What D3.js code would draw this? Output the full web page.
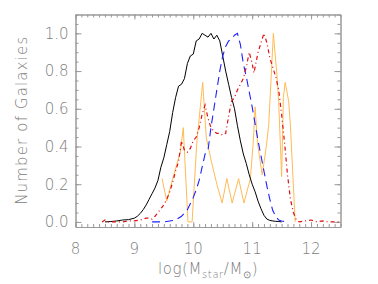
<!DOCTYPE html>
<html><head><meta charset="utf-8">
<script src="https://cdn.jsdelivr.net/npm/d3@7"></script>
<style>
body{margin:0;background:#fff;}
svg{display:block;}
text{font-family:"DejaVu Sans",sans-serif;font-weight:200;fill:#808080;}
</style></head><body>
<svg id="c" width="378" height="284"></svg>
<script>
const xTicks=[8,9,10,11,12];
const yTicks=[0,0.2,0.4,0.6,0.8,1.0];

const blackX=[8.5,8.6,8.7,8.8,8.9,9.0,9.05,9.1,9.15,9.2,9.25,9.3,9.35,9.4,9.45,9.5,9.55,9.6,9.65,9.7,9.75,9.8,9.85,9.9,9.95,10.0,10.05,10.1,10.15,10.2,10.25,10.3,10.35,10.4,10.45,10.5,10.55,10.6,10.65,10.7,10.75,10.8,10.85,10.9,10.95,11.0,11.05,11.1,11.15,11.2,11.25,11.3,11.35,11.4,11.45,11.5];
const blackY=[0,0.002,0.005,0.01,0.012,0.02,0.03,0.045,0.065,0.09,0.12,0.15,0.18,0.22,0.29,0.34,0.41,0.48,0.58,0.66,0.72,0.73,0.76,0.84,0.88,0.89,0.96,0.97,1.0,0.99,0.98,1.0,0.97,0.99,0.96,0.88,0.8,0.73,0.66,0.6,0.51,0.43,0.36,0.31,0.25,0.2,0.16,0.11,0.07,0.035,0.015,0.008,0.005,0.003,0.002,0];

const blueX=[9.3,9.5,9.6,9.7,9.8,9.9,10.0,10.05,10.1,10.15,10.2,10.25,10.3,10.35,10.4,10.45,10.5,10.55,10.6,10.65,10.7,10.75,10.8,10.85,10.9,10.95,11.0,11.05,11.1,11.15,11.2,11.25,11.3,11.35,11.4,11.45,11.5,11.6];
const blueY=[0,0,0.005,0.01,0.03,0.065,0.13,0.17,0.22,0.29,0.36,0.38,0.5,0.6,0.7,0.8,0.88,0.93,0.96,0.97,0.99,1.0,0.94,0.84,0.77,0.69,0.61,0.52,0.43,0.35,0.27,0.19,0.12,0.06,0.03,0.01,0.005,0];

const redX=[8.45,8.5,8.55,8.6,8.7,8.8,8.9,9.0,9.1,9.2,9.25,9.3,9.35,9.4,9.45,9.5,9.55,9.6,9.65,9.7,9.75,9.8,9.85,9.9,9.95,10.0,10.05,10.1,10.15,10.2,10.25,10.3,10.35,10.4,10.45,10.5,10.55,10.6,10.65,10.7,10.75,10.8,10.85,10.9,10.95,11.0,11.03,11.1,11.15,11.2,11.25,11.3,11.35,11.4,11.45,11.5,11.55,11.6,11.65,11.7,11.75,11.8,11.9,12.0,12.1,12.2,12.3,12.5];
const redY=[0,0.01,0,0,0,0,0.005,0.005,0.01,0.02,0.02,0.015,0.03,0.05,0.07,0.09,0.12,0.16,0.21,0.27,0.32,0.43,0.38,0.37,0.39,0.43,0.45,0.5,0.57,0.62,0.55,0.5,0.48,0.47,0.47,0.46,0.47,0.56,0.64,0.66,0.7,0.73,0.76,0.82,0.9,0.84,0.79,0.9,0.95,1.0,0.95,0.87,0.82,0.77,0.7,0.57,0.42,0.25,0.12,0.05,0.01,0,0.005,0.01,0,0.005,0,0];

const orangeX=[9.47,9.55,9.66,9.78,9.83,9.91,9.98,10.06,10.16,10.22,10.3,10.4,10.49,10.57,10.66,10.77,10.86,10.97,11.02,11.05,11.09,11.17,11.24,11.28,11.31,11.36,11.42,11.45,11.5,11.53,11.56,11.62,11.65,11.73];
const orangeY=[0.23,0.11,0.24,0.37,0.5,0,0,0.42,0.74,0.45,0.33,0.2,0.1,0.23,0.1,0.23,0.1,0.23,0.43,0.61,0.42,0.25,0.4,0.51,0.69,1.0,0.78,0.64,0.24,0.66,0.74,0.64,0.51,0];

const svg=d3.select("#c");
const L=75.5,R=340.5,T=14.5,B=227;
const x=d3.scaleLinear().domain([8,12.5]).range([L,R]);
const y=d3.scaleLinear().domain([-0.027,1.1]).range([B,T]);

svg.append("defs").append("clipPath").attr("id","clip").append("rect")
  .attr("x",L).attr("y",T).attr("width",R-L).attr("height",B-T);

const axCol="#9a9a9a";
function styleAx(g){g.selectAll("path,line").attr("stroke",axCol).attr("stroke-width",1);g.selectAll("text").remove();}
const xMinor=d3.range(8,12.51,0.1).map(v=>+v.toFixed(2));
const yMinor=d3.range(0,1.101,0.05).map(v=>+v.toFixed(2));

svg.append("g").attr("transform",`translate(0,${B})`).call(d3.axisBottom(x).tickValues(xMinor).tickSize(-3).tickSizeOuter(0)).call(styleAx);
svg.append("g").attr("transform",`translate(0,${B})`).call(d3.axisBottom(x).tickValues(xTicks).tickSize(-5).tickSizeOuter(0)).call(styleAx);
svg.append("g").attr("transform",`translate(0,${T})`).call(d3.axisTop(x).tickValues(xMinor).tickSize(-3).tickSizeOuter(0)).call(styleAx);
svg.append("g").attr("transform",`translate(0,${T})`).call(d3.axisTop(x).tickValues(xTicks).tickSize(-5).tickSizeOuter(0)).call(styleAx);
svg.append("g").attr("transform",`translate(${L},0)`).call(d3.axisLeft(y).tickValues(yMinor).tickSize(-3).tickSizeOuter(0)).call(styleAx);
svg.append("g").attr("transform",`translate(${L},0)`).call(d3.axisLeft(y).tickValues(yTicks).tickSize(-6).tickSizeOuter(0)).call(styleAx);
svg.append("g").attr("transform",`translate(${R},0)`).call(d3.axisRight(y).tickValues(yMinor).tickSize(-3).tickSizeOuter(0)).call(styleAx);
svg.append("g").attr("transform",`translate(${R},0)`).call(d3.axisRight(y).tickValues(yTicks).tickSize(-6).tickSizeOuter(0)).call(styleAx);

// tick labels
svg.append("g").selectAll("text").data(yTicks).join("text")
  .attr("x",L-7).attr("y",d=>y(d)).attr("dy","0.36em").attr("text-anchor","end")
  .attr("font-size",15).text(d=>d.toFixed(1));
svg.append("g").selectAll("text").data(xTicks).join("text")
  .attr("x",d=>x(d)).attr("y",254).attr("text-anchor","middle")
  .attr("font-size",15).text(d=>d);

// curves
const line=d3.line().x(d=>x(d[0])).y(d=>y(d[1]));
const g=svg.append("g").attr("clip-path","url(#clip)");
g.append("path").datum(d3.zip(orangeX,orangeY)).attr("d",line).attr("fill","none").attr("stroke","#ffbb55").attr("stroke-width",1);
g.append("path").datum(d3.zip(blackX,blackY)).attr("d",line).attr("fill","none").attr("stroke","#000").attr("stroke-width",1);
g.append("path").datum(d3.zip(blueX,blueY)).attr("d",line).attr("fill","none").attr("stroke","#2020ff").attr("stroke-width",1.1).attr("stroke-dasharray","8,5");
g.append("path").datum(d3.zip(redX,redY)).attr("d",line).attr("fill","none").attr("stroke","#dd1111").attr("stroke-width",1.2).attr("stroke-dasharray","4,3,1,3");

// axis titles
const xl=svg.append("text").attr("x",(L+R)/2).attr("y",274).attr("text-anchor","middle").attr("font-size",15).attr("letter-spacing",0.6);
xl.append("tspan").text("log(M");
xl.append("tspan").attr("font-size",10).attr("dy",4).text("star");
xl.append("tspan").attr("dy",-4).text("/M");
xl.append("tspan").attr("font-size",10).attr("dy",4).text("⊙");
xl.append("tspan").attr("dy",-4).text(")");

svg.append("text").attr("transform",`translate(27,${(T+B)/2}) rotate(-90)`)
  .attr("text-anchor","middle").attr("font-size",15)
  .attr("textLength",168).attr("lengthAdjust","spacing").text("Number of Galaxies");
</script>
</body></html>
